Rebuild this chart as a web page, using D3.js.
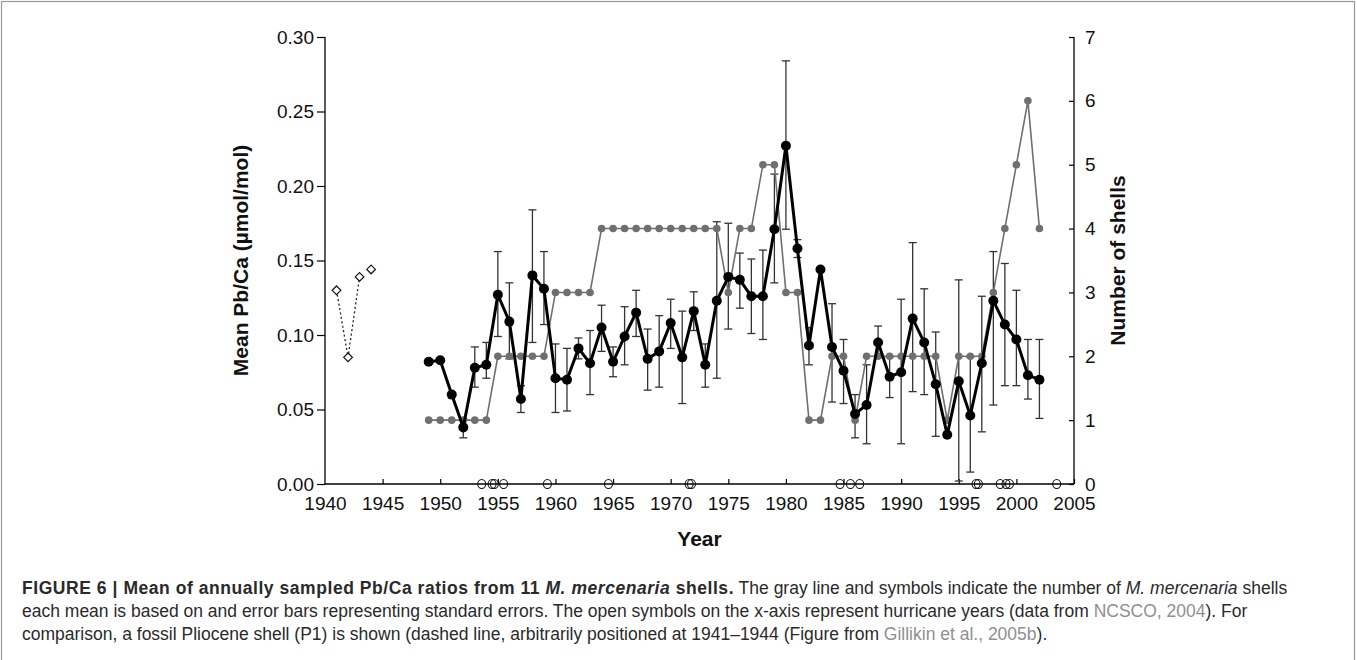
<!DOCTYPE html>
<html><head><meta charset="utf-8">
<script src="https://cdn.jsdelivr.net/npm/d3@7"></script>
<style>
html,body{margin:0;padding:0;background:#fff;}
svg text{font-family:"Liberation Sans",Arial,sans-serif;}
</style></head>
<body>
<svg id="c" width="1357" height="660"></svg>
<script>
const years = [1949,1950,1951,1952,1953,1954,1955,1956,1957,1958,1959,1960,1961,1962,1963,1964,1965,1966,1967,1968,1969,1970,1971,1972,1973,1974,1975,1976,1977,1978,1979,1980,1981,1982,1983,1984,1985,1986,1987,1988,1989,1990,1991,1992,1993,1994,1995,1996,1997,1998,1999,2000,2001,2002];
const meanPbCa = [0.082,0.083,0.060,0.038,0.078,0.080,0.127,0.109,0.057,0.140,0.131,0.071,0.070,0.091,0.081,0.105,0.082,0.099,0.115,0.084,0.089,0.108,0.085,0.116,0.080,0.123,0.139,0.137,0.126,0.126,0.171,0.227,0.158,0.093,0.144,0.092,0.076,0.047,0.053,0.095,0.072,0.075,0.111,0.095,0.067,0.033,0.069,0.046,0.081,0.123,0.107,0.097,0.073,0.070];
const errUpper = [null,null,null,0.044,0.092,0.095,0.156,0.135,0.066,0.184,0.156,0.094,0.091,0.098,0.103,0.120,0.092,0.119,0.130,0.104,0.113,0.124,0.116,0.129,0.094,0.176,0.175,0.155,0.151,0.157,0.208,0.284,0.164,0.105,null,0.121,0.097,0.060,0.080,0.106,0.085,0.124,0.162,0.131,0.102,null,0.137,0.085,0.126,0.156,0.148,0.130,0.097,0.097];
const errLower = [null,null,null,0.031,0.065,0.071,0.099,0.084,0.048,0.095,0.107,0.048,0.049,0.084,0.060,0.089,0.072,0.080,0.099,0.063,0.065,0.091,0.054,0.103,0.065,0.071,0.104,0.118,0.101,0.097,0.135,0.171,0.152,0.080,null,0.055,0.054,0.031,0.027,0.085,0.058,0.027,0.062,0.060,0.032,null,0.002,0.008,0.035,0.053,0.066,0.066,0.057,0.044];
const nShells = [1,1,1,1,1,1,2,2,2,2,2,3,3,3,3,4,4,4,4,4,4,4,4,4,4,4,3,4,4,5,5,3,3,1,1,2,2,1,2,2,2,2,2,2,2,1,2,2,2,3,4,5,6,4];
const fossilYears = [1941,1942,1943,1944];
const fossilPbCa = [0.130,0.085,0.139,0.144];
const hurricaneYears = [1953.6,1954.5,1954.7,1955.5,1959.3,1964.6,1971.6,1971.8,1984.7,1985.6,1986.4,1996.5,1996.7,1998.6,1999.1,1999.4,2003.5];
const xTicks = [1940,1945,1950,1955,1960,1965,1970,1975,1980,1985,1990,1995,2000,2005];
const yLeftTicks = [0,0.05,0.10,0.15,0.20,0.25,0.30];
const yRightTicks = [0,1,2,3,4,5,6,7];

const svg = d3.select("#c");
const L=325, R=1074, T=37, B=484;
const x = d3.scaleLinear().domain([1940,2005]).range([L,R]);
const yL = d3.scaleLinear().domain([0,0.30]).range([B,T]);
const yR = d3.scaleLinear().domain([0,7]).range([B,T]);

// outer frame (bottom edge runs off the page)
svg.append("rect").attr("x",1.5).attr("y",1.5).attr("width",1353).attr("height",700)
  .attr("fill","none").attr("stroke","#9a9a9a").attr("stroke-width",1.2);

const fs = 19;
const axL = svg.append("g").attr("transform",`translate(${L},0)`)
  .call(d3.axisLeft(yL).tickValues(yLeftTicks).tickFormat(d3.format(".2f")).tickSize(8).tickPadding(3));
const axR = svg.append("g").attr("transform",`translate(${R},0)`)
  .call(d3.axisRight(yR).tickValues(yRightTicks).tickFormat(d3.format("d")).tickSizeInner(-5).tickSizeOuter(0).tickPadding(11));
const axB = svg.append("g").attr("transform",`translate(0,${B})`)
  .call(d3.axisBottom(x).tickValues(xTicks).tickFormat(d3.format("d")).tickSizeInner(-5).tickSizeOuter(0).tickPadding(13));
[axL,axR,axB].forEach(a=>{
  a.select(".domain").attr("stroke","#000").attr("stroke-width",1.3);
  a.selectAll(".tick line").attr("stroke","#000").attr("stroke-width",1.2);
  a.selectAll(".tick text").attr("fill","#111").style("font-size",fs+"px").style("font-family","Liberation Sans, Arial, sans-serif");
});
axL.select(".domain").attr("d",`M0,${T}V${B}`);
axR.select(".domain").attr("d",`M0,${T}V${B}`);
axB.select(".domain").attr("d",`M${L},0H${R}`);
axB.selectAll(".tick").filter(d=>d===1940).select("line").remove();

// axis titles
svg.append("text").attr("transform",`translate(248,${(T+B)/2}) rotate(-90)`)
  .attr("text-anchor","middle").attr("font-weight","bold").attr("font-size",21).attr("fill","#111")
  .text("Mean Pb/Ca (µmol/mol)");
svg.append("text").attr("transform",`translate(1125,${(T+B)/2}) rotate(-90)`)
  .attr("text-anchor","middle").attr("font-weight","bold").attr("font-size",21).attr("fill","#111")
  .text("Number of shells");
svg.append("text").attr("x",(L+R)/2).attr("y",546).attr("text-anchor","middle")
  .attr("font-weight","bold").attr("font-size",21).attr("fill","#111").text("Year");

// error bars
const errData = years.map((yr,i)=>({yr,hi:errUpper[i],lo:errLower[i]})).filter(d=>d.hi!==null);
const eg = svg.append("g").attr("stroke","#333").attr("stroke-width",1.3).attr("fill","none");
errData.forEach(d=>{
  const cx = x(d.yr);
  eg.append("line").attr("x1",cx).attr("x2",cx).attr("y1",yL(d.hi)).attr("y2",yL(d.lo));
  eg.append("line").attr("x1",cx-4).attr("x2",cx+4).attr("y1",yL(d.hi)).attr("y2",yL(d.hi));
  eg.append("line").attr("x1",cx-4).attr("x2",cx+4).attr("y1",yL(d.lo)).attr("y2",yL(d.lo));
});

// gray n shells series
const grayC = "#6f6f6f";
const nLine = d3.line().x((d,i)=>x(years[i])).y(d=>yR(d));
svg.append("path").attr("d",nLine(nShells)).attr("fill","none").attr("stroke",grayC).attr("stroke-width",1.6);
svg.append("g").selectAll("circle").data(nShells).join("circle")
  .attr("cx",(d,i)=>x(years[i])).attr("cy",d=>yR(d)).attr("r",3.8).attr("fill",grayC);

// black mean series
const mLine = d3.line().x((d,i)=>x(years[i])).y(d=>yL(d));
svg.append("path").attr("d",mLine(meanPbCa)).attr("fill","none").attr("stroke","#000").attr("stroke-width",3);
svg.append("g").selectAll("circle").data(meanPbCa).join("circle")
  .attr("cx",(d,i)=>x(years[i])).attr("cy",d=>yL(d)).attr("r",5).attr("fill","#000");

// fossil P1 (dotted)
const fLine = d3.line().x((d,i)=>x(fossilYears[i])).y(d=>yL(d));
svg.append("path").attr("d",fLine(fossilPbCa.slice(0,3))).attr("fill","none")
  .attr("stroke","#222").attr("stroke-width",1.3).attr("stroke-dasharray","2,2.5");
svg.append("g").selectAll("path").data(fossilPbCa).join("path")
  .attr("d",d3.symbol(d3.symbolDiamond2,48))
  .attr("transform",(d,i)=>`translate(${x(fossilYears[i])},${yL(d)})`)
  .attr("fill","#fff").attr("stroke","#111").attr("stroke-width",1.2);

// hurricanes
svg.append("g").selectAll("ellipse").data(hurricaneYears).join("ellipse")
  .attr("cx",d=>x(d)).attr("cy",yL(0)).attr("rx",4).attr("ry",4.5)
  .attr("fill","none").attr("stroke","#111").attr("stroke-width",1.1);

// caption
const capFs = 17.5;
const cap = svg.append("g").attr("font-size",capFs).attr("fill","#2a2a2a");
function capLine(y, parts){
  const t = cap.append("text").attr("x",22).attr("y",y);
  parts.forEach(p=>{
    const s = t.append("tspan").text(p.t);
    if(p.b) s.attr("font-weight","bold").attr("letter-spacing","0.55");
    if(p.i) s.attr("font-style","italic");
    if(p.g) s.attr("fill","#8f8f8f");
  });
}
capLine(594,[{t:"FIGURE 6 | Mean of annually sampled Pb/Ca ratios from 11 ",b:1},{t:"M. mercenaria",b:1,i:1},{t:" shells.",b:1},{t:" The gray line and symbols indicate the number of "},{t:"M. mercenaria",i:1},{t:" shells"}]);
capLine(617,[{t:"each mean is based on and error bars representing standard errors. The open symbols on the x-axis represent hurricane years (data from "},{t:"NCSCO, 2004",g:1},{t:"). For"}]);
capLine(640,[{t:"comparison, a fossil Pliocene shell (P1) is shown (dashed line, arbitrarily positioned at 1941–1944 (Figure from "},{t:"Gillikin et al., 2005b",g:1},{t:")."}]);
</script>
</body></html>
